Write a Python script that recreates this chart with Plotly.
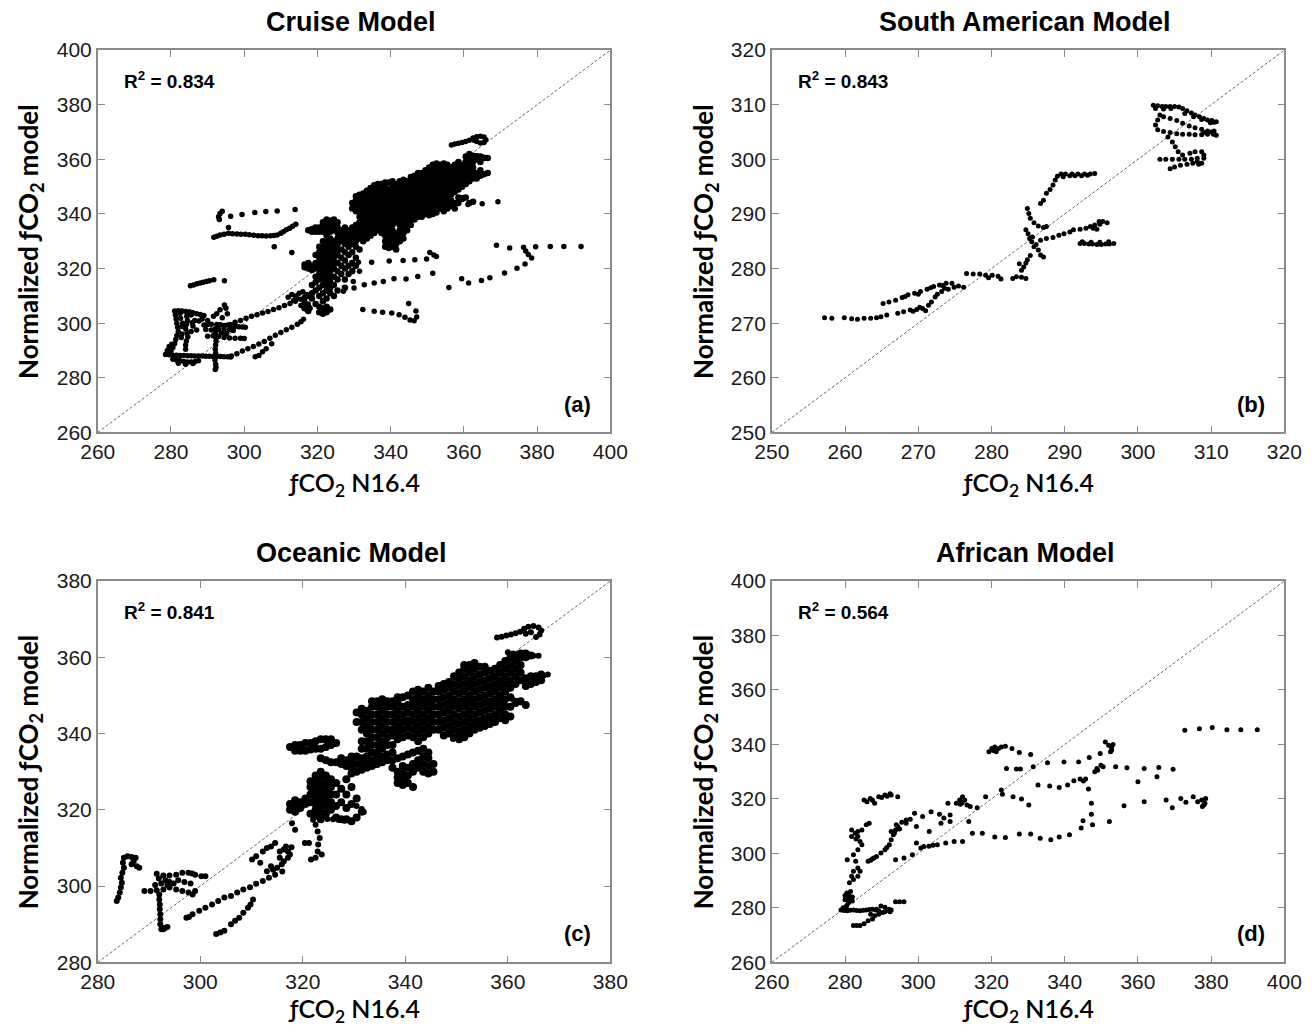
import plotly.graph_objects as go

W, H = 1316, 1032

cruise_pts = [
    (293.2, 338.0), (293.0, 339.0), (293.4, 340.2), (294.0, 341.0), (296.3, 339.2), (299.4, 339.8),
    (302.9, 340.5), (305.9, 340.9), (309.0, 341.1), (313.9, 341.6), (295.7, 335.0),
    (291.7, 331.5), (292.5, 331.8), (293.4, 332.3), (294.5, 332.6), (295.7, 332.9), (296.8, 332.8),
    (298.0, 332.7), (299.1, 332.6), (300.3, 332.6), (301.4, 332.4), (302.6, 332.2), (303.8, 332.0),
    (304.9, 332.0), (306.0, 331.9), (307.2, 332.0), (308.1, 332.1), (309.0, 332.3), (310.0, 332.9),
    (310.7, 333.5), (311.5, 334.2), (312.4, 334.8), (313.2, 335.5), (314.1, 336.2), (308.2, 328.0),
    (313.0, 325.9),
    (285.3, 313.7), (286.2, 314.0), (287.1, 314.4), (288.0, 314.7), (288.8, 315.0), (289.7, 315.3),
    (290.5, 315.5), (291.7, 315.9), (294.6, 315.5),
    (368.9, 328.5), (372.5, 327.5), (376.3, 327.8), (379.6, 328.0), (383.6, 328.1), (387.3, 328.1),
    (392.0, 328.1), (376.9, 326.4), (377.6, 325.2), (378.5, 323.9), (376.7, 321.7), (374.5, 320.1),
    (371.1, 318.4), (367.1, 316.6), (364.8, 315.6), (361.3, 314.7), (359.4, 316.3), (355.9, 313.1),
    (331.2, 322.3), (334.8, 322.3), (339.6, 322.8), (343.4, 323.0), (346.6, 323.2), (349.8, 323.5),
    (350.7, 325.9), (351.8, 325.0), (352.5, 324.4),
    (327.1, 311.7), (330.0, 312.9), (332.8, 314.1), (335.5, 314.7), (338.0, 315.3), (340.9, 316.3),
    (344.2, 316.2), (347.4, 317.1), (351.5, 318.3), (329.8, 315.3), (331.5, 319.0), (330.3, 320.8),
    (332.4, 305.0), (335.5, 304.4), (337.8, 304.0), (340.3, 303.7), (342.3, 303.1), (343.9, 302.2),
    (345.3, 301.2), (346.4, 300.9), (347.1, 302.3), (346.9, 304.5), (344.9, 307.2),
    (365.0, 343.7), (369.3, 344.5), (361.1, 343.5), (359.7, 346.0), (341.2, 327.9),
    (356.6, 365.3), (357.5, 365.6), (358.5, 365.9), (359.5, 366.2), (360.5, 366.5), (361.5, 367.0),
    (362.5, 367.8), (363.5, 368.3), (364.5, 368.5), (365.5, 368.2), (366.0, 367.2), (365.5, 366.2),
    (364.5, 366.0), (363.5, 366.5), (362.8, 367.0),
    (361.5, 361.2), (362.5, 361.5), (363.5, 361.3), (364.5, 361.0), (365.5, 360.8), (366.3, 360.6),
    (278.5, 288.5), (279.5, 288.4), (280.5, 288.3), (281.5, 288.3), (282.5, 288.2), (283.5, 288.2),
    (284.5, 288.1), (285.5, 288.1), (286.5, 288.0), (287.5, 288.0), (288.5, 288.0), (289.5, 287.9),
    (290.5, 287.9), (291.5, 287.8), (292.5, 287.8), (293.5, 287.8), (294.5, 287.7), (295.5, 287.7),
    (296.3, 287.6),
    (280.5, 286.8), (281.5, 286.5), (282.5, 286.2), (283.5, 286.0), (284.5, 285.8), (285.5, 285.8),
    (286.5, 285.9), (287.5, 286.2), (282.0, 285.3), (284.0, 285.0), (286.0, 285.2),
    (279.0, 290.0), (279.5, 291.5), (280.0, 289.5), (280.5, 291.0), (279.3, 289.0), (280.2, 292.3),
    (281.0, 304.5), (282.0, 304.6), (283.0, 304.5), (284.0, 304.3), (285.0, 304.2), (286.0, 303.8),
    (287.0, 303.5), (288.0, 303.2), (289.0, 302.8), (282.5, 303.6), (285.5, 303.0),
    (281.2, 303.0), (281.4, 301.5), (281.6, 300.0), (281.8, 298.5), (282.0, 297.0), (281.6, 295.5),
    (281.3, 294.0), (281.0, 292.5), (282.6, 301.8), (282.8, 294.8),
    (284.3, 302.5), (284.5, 301.0), (284.2, 299.5), (284.0, 298.0), (284.4, 296.5), (284.6, 295.0),
    (284.2, 293.5), (284.0, 292.0), (284.0, 290.5),
    (283.0, 296.0), (283.2, 300.0), (285.5, 297.0), (286.0, 299.0), (286.5, 301.0), (287.0, 297.5),
    (283.0, 298.8), (285.8, 300.2), (287.6, 300.8),
    (292.1, 298.0), (292.2, 296.5), (292.1, 295.0), (292.3, 293.5), (292.2, 292.0), (292.1, 290.5),
    (292.2, 289.0), (292.0, 286.5), (292.2, 285.0), (292.3, 283.8), (292.1, 283.0),
    (289.0, 299.3), (290.0, 299.5), (291.0, 299.6), (292.5, 299.5), (293.5, 299.4), (294.5, 299.2),
    (295.5, 299.3), (296.5, 299.1), (297.5, 298.9), (298.5, 298.7), (299.5, 298.6), (300.3, 298.5),
    (289.5, 297.7), (291.0, 297.5), (293.0, 297.8), (294.5, 297.9), (296.0, 297.6), (297.0, 297.3),
    (290.0, 295.2), (291.5, 295.4), (293.0, 295.1), (294.5, 294.8), (296.0, 294.6), (297.5, 294.5),
    (299.0, 294.5), (300.0, 294.4), (293.8, 296.4), (295.2, 296.2),
    (291.6, 302.5), (292.5, 303.5), (293.4, 304.9), (294.6, 306.7), (295.0, 305.5), (295.4, 303.5),
    (294.0, 302.0), (290.0, 301.0), (288.5, 301.5),
    (296.2, 299.5), (297.5, 300.3), (299.0, 301.0), (300.5, 301.8), (302.0, 302.5), (303.5, 303.1),
    (305.0, 303.7), (306.5, 304.3), (308.0, 305.0), (309.5, 305.7), (311.0, 306.5), (312.5, 307.2),
    (314.0, 308.0), (315.5, 308.8), (316.5, 309.6),
    (312.0, 309.5), (313.0, 310.5), (314.0, 310.0), (315.0, 311.0), (316.0, 311.5), (317.0, 310.5),
    (316.5, 308.5), (317.5, 307.0), (318.0, 305.5), (315.5, 306.5), (316.8, 306.0), (314.5, 309.0),
    (313.5, 308.3), (317.2, 304.8),
    (296.5, 288.0), (298.0, 288.8), (299.5, 289.8), (301.0, 290.6), (302.5, 291.5), (304.0, 292.4),
    (305.5, 293.3), (307.0, 294.5), (308.5, 295.6), (310.0, 296.6), (311.5, 297.6), (313.0, 298.5),
    (314.5, 299.6), (315.5, 300.5), (316.2, 301.4),
    (303.0, 287.7), (304.0, 288.2), (305.0, 289.5), (306.0, 290.6), (307.5, 292.5),
]
cruise_cols = [
    (316.5, [305.5, 307, 320.5, 321.5]),
    (317.5, [304.5, 306, 310, 320, 322, 334]),
    (318.5, [309, 311, 314, 319.5, 321, 333.5, 334.5]),
    (319.5, [307, 312, 315, 317, 320, 322, 325, 333.5, 335]),
    (320.5, [304, 306, 310, 313, 316, 318, 320, 322, 324, 326, 328, 333.5, 335]),
    (321.5, [303.5, 305.5, 308, 311, 314, 316, 318, 320, 322, 324, 326, 328, 330, 333.5, 335.5, 337]),
    (322.5, [304, 306, 309, 312, 314, 316, 318, 320, 322, 324, 326, 328, 330, 332, 334, 336, 338]),
    (323.5, [305, 311, 313, 315, 317, 319, 321, 323, 325, 327, 329, 331, 333.5, 335.5, 337.5]),
    (324.5, [310, 314, 317, 320, 322, 324, 326, 328, 330, 334, 336, 338]),
    (325.5, [312, 316, 319, 322, 325, 327, 329, 331, 333, 335, 337]),
    (326.5, [318, 321, 324, 327, 330, 332, 334]),
    (327.5, [313, 316, 320, 323, 326, 329, 331, 333, 335]),
    (328.5, [318, 321, 325, 328, 330, 332, 334]),
    (329.5, [319, 322, 326, 329, 331, 333, 335, 342, 344]),
    (330.5, [321, 324, 328, 330, 332, 334, 336, 341, 343, 345, 346.5]),
    (331.5, [327, 331, 333, 335, 337, 339, 341, 343, 345, 347]),
    (332.5, [330, 332, 334, 336, 338, 340, 342, 344, 346, 347.5]),
    (333.5, [331, 333, 335, 337, 339, 341, 343, 345, 347, 348.5]),
    (334.5, [332, 334, 336, 338, 340, 342, 344, 346, 348, 349.5]),
    (335.5, [333, 335, 337, 339, 341, 343, 345, 347, 349, 350.5]),
    (336.5, [334, 336, 338, 340, 342, 344, 346, 348, 350, 351]),
    (337.5, [333, 335, 337, 339, 341, 343, 345, 347, 349, 351]),
    (338.5, [328, 330, 332, 334, 336, 338, 340, 342, 344, 346, 348, 350, 351.5]),
    (339.5, [327.5, 329, 331, 333, 335, 337, 339, 341, 343, 345, 347, 349, 351.5]),
    (340.5, [328, 330, 332, 334, 336, 338, 340, 342, 344, 346, 348, 350, 352]),
    (341.5, [327, 329, 331, 333, 337, 339, 341, 343, 345, 347, 349, 351]),
    (342.5, [330, 332, 334, 336, 338, 340, 342, 344, 346, 348, 350, 352]),
    (343.5, [331, 333, 335, 337, 339, 341, 343, 345, 347, 349, 351, 352.5]),
    (344.5, [334, 336, 338, 340, 342, 344, 346, 348, 350, 352]),
    (345.5, [336, 338, 340, 342, 344, 346, 348, 350, 352, 353.5]),
    (346.5, [338, 340, 342, 344, 346, 348, 350, 352, 354]),
    (347.5, [339, 341, 343, 345, 347, 349, 351, 353, 355]),
    (348.5, [339, 341, 343, 345, 347, 349, 351, 353, 355]),
    (349.5, [340, 342, 344, 346, 348, 350, 352, 354, 356]),
    (350.5, [339.5, 341, 343, 345, 347, 349, 351, 353, 355, 357]),
    (351.5, [340, 342, 344, 346, 348, 350, 352, 354, 356, 358]),
    (352.5, [340.5, 343, 345, 347, 349, 351, 353, 355, 357, 358.5]),
    (353.5, [342, 344, 346, 348, 350, 352, 354, 356, 358]),
    (354.5, [341, 343, 345, 347, 349, 351, 353, 355, 357, 358.5]),
    (355.5, [342, 344, 346, 348, 350, 352, 354, 356, 358]),
    (356.5, [343, 345, 347, 349, 351, 353, 355, 357]),
    (357.5, [342, 344, 348, 350, 352, 354, 356, 358]),
    (358.5, [344, 346, 349, 351, 353, 355, 357, 359]),
    (359.5, [345.5, 350, 352, 354, 356, 358]),
    (360.5, [346, 351, 353, 355, 357, 359, 361]),
    (361.5, [344, 352, 354, 356, 358, 360, 362]),
    (362.5, [344.5, 353, 355, 357, 359, 361]),
    (363.5, [353, 355, 360, 361]),
    (364.5, [354, 356, 359, 361]),
    (365.5, [354.5, 360.5]),
    (366.5, [355, 360.5]),
]

south_pts = [
    (257.2, 271.0), (258.2, 270.9), (259.9, 271.0), (260.9, 270.8), (261.7, 270.7), (262.6, 270.9),
    (263.5, 270.9), (264.3, 271.0), (264.9, 271.2), (265.7, 271.5),
    (265.2, 273.6), (266.0, 273.9), (266.9, 274.2), (267.8, 274.7), (268.6, 275.2), (269.5, 275.5),
    (270.3, 275.8), (271.2, 276.2), (272.1, 276.7), (272.9, 277.0), (273.8, 277.3), (274.6, 277.3),
    (275.5, 276.8), (276.2, 276.6), (268.2, 274.9), (270.0, 275.3), (271.7, 276.5), (273.3, 276.9),
    (267.2, 271.8), (268.0, 272.1), (268.9, 272.4), (269.8, 272.5), (270.6, 272.7), (271.4, 273.3),
    (271.8, 273.9), (272.3, 274.8), (273.2, 275.8), (274.1, 276.2), (274.9, 276.6), (269.3, 272.2),
    (270.2, 272.9), (271.0, 272.3), (272.6, 275.3), (273.6, 276.4),
    (276.6, 279.1), (277.5, 279.0), (278.4, 279.0), (279.2, 278.8), (280.1, 278.8), (280.9, 278.6),
    (282.9, 278.2), (283.4, 278.5), (284.1, 278.4), (284.7, 278.2), (279.6, 278.3), (281.3, 278.1),
    (284.1, 279.7), (284.4, 280.3), (284.7, 281.0), (284.9, 281.6), (283.8, 280.9), (285.3, 282.4),
    (284.9, 291.0), (285.1, 290.1), (285.3, 289.2), (285.8, 288.4), (286.4, 287.8), (287.1, 287.5),
    (287.5, 287.7), (284.7, 287.1), (285.0, 286.4), (285.2, 285.5), (285.5, 284.9), (285.8, 284.0),
    (286.4, 283.4), (286.7, 282.5), (287.1, 282.1), (285.6, 285.8), (286.1, 284.4),
    (286.7, 291.9), (287.1, 292.5), (287.5, 293.8), (288.0, 294.5), (288.4, 295.3), (288.7, 296.2),
    (289.0, 296.9), (289.5, 297.3), (290.1, 297.3), (291.0, 297.3), (291.8, 297.3), (292.7, 297.3),
    (293.5, 297.3), (294.1, 297.4), (289.8, 296.8), (290.7, 297.0), (291.4, 297.0), (292.3, 297.0),
    (293.1, 297.1),
    (286.7, 285.2), (287.5, 285.5), (288.4, 285.7), (289.2, 286.1), (289.9, 286.4), (290.7, 286.7),
    (291.2, 287.1), (292.1, 287.2), (292.9, 287.4), (293.5, 287.7), (294.1, 288.0), (294.7, 288.6),
    (295.2, 288.6), (295.8, 288.4), (293.9, 287.4), (294.4, 287.2), (294.8, 288.1),
    (292.1, 284.6), (292.7, 284.6), (293.3, 284.5), (293.8, 284.5), (294.4, 284.4), (295.0, 284.4),
    (295.6, 284.5), (296.1, 284.5), (296.7, 284.6), (292.4, 284.9), (293.6, 284.8), (294.8, 284.8),
    (296.0, 284.9),
    (302.1, 309.9), (302.7, 309.8), (303.3, 309.7), (303.8, 309.7), (304.4, 309.7), (305.0, 309.7),
    (305.6, 309.6), (306.1, 309.3), (306.7, 308.9), (307.3, 308.5), (307.8, 308.1), (308.4, 307.8),
    (309.0, 307.5), (309.5, 307.2), (310.1, 307.1), (310.7, 306.9),
    (302.4, 309.3), (303.5, 309.2), (304.5, 309.3), (306.4, 308.4), (307.6, 307.8), (308.7, 307.3),
    (309.9, 306.7), (310.4, 306.8),
    (303.0, 308.1), (302.7, 307.2), (302.4, 306.3), (302.7, 305.4), (303.5, 305.1), (304.4, 304.9),
    (305.3, 304.7), (306.1, 304.6), (307.0, 304.6), (307.8, 304.5), (308.7, 304.5), (309.5, 304.6),
    (310.3, 304.6), (310.7, 304.4), (309.0, 304.9), (310.0, 305.0),
    (303.5, 307.8), (304.4, 307.5), (305.3, 307.1), (306.1, 306.6), (307.0, 306.1), (307.8, 305.8),
    (308.7, 305.5), (309.5, 305.2), (310.4, 305.2),
    (304.1, 304.1), (304.7, 303.2), (305.1, 302.3), (305.5, 301.4),
    (303.0, 300.0), (303.8, 300.0), (304.7, 300.0), (305.6, 300.0), (306.4, 300.0), (307.3, 300.0),
    (308.1, 300.2), (309.0, 300.2),
    (304.4, 298.3), (305.0, 298.6), (305.8, 298.9), (306.7, 299.1), (307.5, 299.3), (308.1, 299.6),
    (306.1, 300.8), (307.1, 301.1), (307.8, 301.4), (308.7, 301.4), (309.0, 300.8), (308.3, 299.1),
    (308.7, 299.3),
]

ocean_pts = [
    (283.7, 296.1), (284.0, 297.0), (284.3, 298.3), (284.5, 299.6), (284.7, 300.9), (284.5, 302.2),
    (284.8, 303.5), (285.1, 304.8), (284.9, 306.1), (285.1, 307.4), (285.8, 307.8), (286.6, 307.6),
    (287.4, 307.4), (287.0, 306.5), (286.6, 305.7), (287.6, 305.2), (288.1, 304.8),
    (291.5, 303.2), (292.8, 302.8), (294.0, 302.8), (295.3, 303.0), (296.5, 303.5), (297.7, 303.5),
    (299.0, 303.0), (300.2, 302.6), (301.0, 302.6), (298.4, 303.3),
    (289.1, 298.7), (290.3, 298.7), (291.5, 298.9), (292.8, 299.1), (294.0, 299.6), (295.3, 299.1),
    (296.5, 298.7), (297.7, 298.3), (298.5, 297.8), (299.0, 298.7),
    (291.9, 302.0), (293.2, 301.5), (294.0, 301.1), (294.8, 300.7), (295.7, 301.5), (296.9, 301.1),
    (298.1, 300.7), (292.4, 300.7), (293.6, 300.3), (291.2, 300.3),
    (292.0, 297.8), (292.0, 296.5), (292.1, 295.2), (292.1, 293.9), (292.2, 292.6), (292.2, 291.3),
    (292.2, 290.0), (292.4, 288.7), (292.8, 288.7), (293.2, 289.1), (293.6, 289.3),
    (297.3, 291.7), (298.5, 292.6), (299.8, 293.5), (301.0, 294.3), (302.3, 295.2), (303.5, 296.1),
    (304.7, 297.0), (306.0, 297.4), (307.2, 298.3), (308.4, 299.1), (309.7, 299.7), (310.9, 300.6),
    (312.2, 301.3), (313.4, 302.2), (314.6, 303.0), (297.8, 291.9),
    (303.1, 287.4), (303.9, 287.8), (304.7, 288.3), (306.0, 290.0), (306.8, 290.9), (307.6, 291.7),
    (308.4, 293.0), (309.3, 294.3), (309.8, 295.2), (310.3, 296.5),
    (310.1, 307.0), (310.9, 307.8), (312.2, 309.1), (313.0, 310.0), (313.8, 310.4), (314.6, 311.3),
    (315.5, 309.1), (316.3, 309.6), (316.7, 310.4), (317.1, 309.1), (315.5, 307.4), (315.9, 305.7),
    (315.0, 304.8), (316.3, 306.5), (317.1, 307.4), (317.5, 308.3), (314.2, 304.3), (313.8, 305.2),
    (313.0, 303.9), (311.7, 306.1), (316.0, 303.8), (317.8, 310.2),
    (322.5, 307.4), (322.9, 309.1), (323.0, 310.9), (323.3, 312.6), (322.9, 314.3), (322.5, 316.1),
    (322.0, 317.4), (321.6, 307.0), (323.7, 308.3), (320.4, 311.3), (321.2, 311.3),
    (317.9, 316.5), (318.5, 314.8),
    (323.7, 317.8), (324.8, 317.6), (325.9, 317.5), (327.0, 317.3), (328.1, 317.1), (329.2, 317.0),
    (330.5, 321.0), (331.5, 320.2), (331.9, 319.4),
    (357.9, 365.2), (358.8, 365.4), (359.7, 365.7), (360.6, 366.0), (361.5, 366.3), (362.4, 366.7),
    (363.2, 367.5), (364.0, 368.0), (365.0, 368.2), (366.0, 367.8), (366.5, 367.0), (366.2, 366.0),
    (365.5, 365.3), (364.5, 366.6), (363.5, 366.2),
    (360.0, 361.3), (361.0, 361.0), (362.0, 360.8), (363.0, 360.6), (364.0, 360.5), (365.0, 360.4),
    (366.0, 360.4),
    (349.3, 338.6), (350.2, 339.2), (351.2, 339.8), (352.2, 340.5), (353.2, 341.2), (354.2, 341.9),
    (355.2, 342.5), (356.2, 343.0), (357.2, 343.6), (358.2, 344.0), (359.0, 344.5),
    (360.8, 349.1), (361.6, 348.6), (362.5, 348.2),
    (367.0, 355.2), (367.8, 355.5),
]
ocean_cols = [
    (317.5, [320, 321.5, 336.5]),
    (318.5, [319.5, 321, 322.5, 335.5, 337]),
    (319.5, [320.5, 322, 335.5, 337]),
    (320.5, [321.5, 323, 335.5, 337.5]),
    (321.5, [319, 322, 324, 326, 327.5, 335.8, 337.5]),
    (322.5, [318.5, 320, 321.5, 323, 324.5, 326, 327.5, 329, 336, 338]),
    (323.5, [317.5, 319.5, 321, 322.5, 324, 325.5, 327, 328.5, 330, 333.5, 336, 338.5]),
    (324.5, [319, 321, 322.5, 324, 325.5, 327, 329, 333, 336.5, 338.5]),
    (325.5, [320, 322, 324, 326, 328, 332.5, 337, 338.5]),
    (326.5, [318, 321, 324, 327, 332.5, 337.5]),
    (327.5, [317.5, 322, 325.5, 332, 333.5]),
    (328.5, [317.5, 320.5, 324, 328, 331.5, 333]),
    (329.5, [317, 321.5, 326, 329.5, 331, 332.5, 334]),
    (330.5, [318, 323, 330, 332, 334, 343, 345.5]),
    (331.5, [319.5, 330.5, 332, 333.5, 336, 338, 341, 343, 345, 346.5]),
    (332.5, [331, 332.5, 334, 336, 338, 340, 342, 344, 346]),
    (333.5, [331.5, 333, 335, 337, 339, 341, 343, 345, 347, 348.5]),
    (334.5, [332, 333.5, 335, 337, 339, 341, 343, 345, 347, 348.5]),
    (335.5, [332.5, 334, 336, 338, 340, 342, 344, 346, 348, 349]),
    (336.5, [333, 334.5, 337, 339, 341, 343, 345, 347, 348.5]),
    (337.5, [331, 333, 335, 337, 339.5, 341, 343, 345, 347, 348.5]),
    (338.5, [327, 328.5, 330, 333.5, 338.5, 340, 342, 344, 346, 348, 349.5]),
    (339.5, [326.5, 328, 329.5, 331.5, 334, 339, 341, 343, 345, 347, 349.5]),
    (340.5, [327, 329, 331, 334.5, 339.5, 341.5, 343.5, 345.5, 347.5, 350]),
    (341.5, [326, 330, 332, 335, 339, 341, 343, 345, 347, 349, 351]),
    (342.5, [331, 333, 335.5, 338, 340, 342, 344, 346, 348, 350, 351.5]),
    (343.5, [330, 332, 334, 336, 339, 341, 343, 345, 347, 349, 351]),
    (344.5, [329.5, 331.5, 333.5, 335, 340, 342, 344, 346, 348, 350, 352]),
    (345.5, [330, 332, 341, 343, 345, 347, 349, 351]),
    (346.5, [341, 343, 345, 347, 349, 351, 352.5]),
    (347.5, [339.5, 341.5, 343.5, 345.5, 347.5, 349.5, 351.5, 353]),
    (348.5, [340, 342, 344, 346, 348, 350, 352, 353.5]),
    (349.5, [339, 341, 343, 345, 347, 349, 351, 353, 355]),
    (350.5, [338.5, 340.5, 342.5, 344.5, 346.5, 348.5, 350.5, 352.5, 354.5, 356]),
    (351.5, [339, 341, 343, 345, 347, 349, 351, 353, 355, 357, 358]),
    (352.5, [340, 342, 344, 346, 348, 350, 352, 354, 356, 358]),
    (353.5, [341, 343, 345, 347, 349, 351, 353, 355, 357, 358.5]),
    (354.5, [341.5, 343.5, 345.5, 347.5, 349.5, 351.5, 353.5, 355.5, 357.5]),
    (355.5, [342, 344, 346, 348, 350, 352, 354, 356, 357.5]),
    (356.5, [342.5, 344.5, 346.5, 348.5, 350.5, 352.5, 354.5, 356.5]),
    (357.5, [343, 345, 347, 349, 351, 353, 355, 357]),
    (358.5, [344, 346, 348, 350, 352, 354, 356, 358]),
    (359.5, [343.5, 345, 347, 349, 351, 353, 355, 357, 359]),
    (360.5, [344.5, 347, 349.5, 352, 354, 356, 358, 360]),
    (361.5, [348, 353, 355, 357, 359, 360.5]),
    (362.5, [348.5, 354, 356, 358, 360, 361]),
    (363.5, [347.5, 352.5, 354.5, 360, 361]),
    (364.5, [353, 355, 360.5]),
    (365.5, [353.5, 355]),
    (366.5, [354, 355.5]),
]

africa_pts = [
    (372.8, 345.2), (376.8, 345.8), (380.3, 346.2), (384.3, 345.4), (388.1, 345.4), (392.6, 345.4),
    (367.7, 319.6), (369.4, 316.8), (371.7, 320.2), (373.1, 318.8), (375.1, 320.8), (376.3, 319.0),
    (377.4, 319.6), (378.0, 317.8), (378.5, 320.2), (378.3, 318.4), (377.6, 317.2),
    (353.9, 331.8), (357.0, 331.4), (361.7, 331.2), (365.7, 331.5), (369.6, 330.9),
    (365.2, 328.1), (360.0, 326.3), (356.2, 317.5), (361.7, 319.0),
    (351.1, 340.9), (352.0, 339.7), (352.8, 338.7), (352.5, 337.3), (353.2, 340.0), (352.8, 337.9),
    (349.7, 336.7), (349.9, 332.4), (348.8, 331.2), (348.2, 330.0), (349.0, 330.5), (350.5, 331.8),
    (346.7, 335.2), (344.2, 327.3), (345.1, 326.6), (345.7, 327.3), (342.5, 326.7),
    (346.5, 323.6), (347.3, 318.4), (347.3, 314.4), (345.0, 312.0), (344.5, 309.3), (347.6, 310.5),
    (352.2, 311.7),
    (314.8, 307.4), (317.5, 307.4), (320.9, 306.0), (323.8, 305.8), (327.6, 307.1), (330.7, 307.1),
    (333.3, 305.6), (336.2, 305.0), (338.5, 306.0), (341.3, 306.8),
    (335.3, 333.3), (339.8, 333.6), (343.8, 333.6),
    (324.1, 331.2), (326.8, 331.0), (327.9, 331.0), (331.4, 331.8),
    (332.7, 325.1), (335.9, 324.7), (338.5, 324.2), (340.8, 325.1),
    (325.9, 320.8), (328.2, 320.0), (330.2, 317.8), (322.7, 323.3), (323.0, 321.7),
    (319.3, 337.3), (320.1, 338.5), (320.9, 339.1), (321.9, 338.5), (322.7, 339.1), (323.8, 339.3),
    (325.6, 338.5), (327.6, 337.0), (330.7, 336.3), (321.3, 337.3), (320.5, 337.8),
    (318.4, 320.8), (316.1, 316.8),
    (285.2, 319.6), (286.9, 320.2), (288.1, 318.4), (289.2, 320.8), (290.9, 321.4), (292.6, 321.4),
    (294.4, 320.8), (286.0, 319.0), (287.5, 319.5), (290.0, 320.5), (292.3, 321.9), (291.5, 321.0),
    (308.1, 318.4), (310.4, 318.4), (311.3, 319.6), (312.1, 320.8), (312.7, 319.6), (313.3, 317.8),
    (314.2, 317.2), (312.0, 318.6), (311.5, 318.0),
    (313.8, 311.7),
    (299.0, 314.7), (301.2, 313.5), (303.5, 315.3), (305.8, 314.4), (308.7, 314.1), (296.7, 311.1),
    (299.5, 309.9), (303.0, 308.0), (306.2, 311.1), (308.7, 311.7), (307.0, 313.0),
    (286.3, 297.1), (287.5, 298.0), (288.6, 298.9), (289.8, 300.1), (290.9, 301.3), (292.1, 303.2),
    (292.6, 305.0), (293.2, 306.8), (293.8, 308.6), (294.4, 309.9), (295.5, 311.4), (296.7, 312.3),
    (297.8, 312.5), (292.6, 308.0), (293.5, 307.5), (294.0, 310.5), (294.9, 309.0), (291.4, 302.2),
    (287.0, 297.5), (288.0, 298.4),
    (296.1, 298.3), (293.8, 297.7),
    (298.4, 299.5), (300.7, 302.0), (302.9, 302.6), (305.2, 303.2), (307.5, 303.8), (309.8, 304.4),
    (312.1, 304.4), (299.5, 303.8), (301.5, 302.5), (304.0, 303.0),
    (281.8, 308.6), (283.5, 308.0), (284.6, 308.6), (285.8, 310.5), (286.6, 311.1), (281.8, 306.2),
    (283.5, 306.2), (284.1, 304.4), (284.6, 303.2), (283.5, 301.3), (282.3, 299.5), (280.6, 297.7),
    (282.9, 297.1), (283.5, 294.6), (282.3, 293.4), (281.8, 291.6), (282.3, 290.4), (281.2, 289.2),
    (283.5, 291.6), (284.1, 293.4), (282.8, 307.4), (283.0, 305.3),
    (281.0, 285.0), (281.0, 283.5), (281.0, 282.0), (280.5, 281.0), (282.0, 284.0), (282.0, 282.5),
    (280.0, 283.0), (280.0, 284.5), (280.5, 285.5), (281.5, 286.0),
    (278.9, 279.2), (279.7, 279.0), (280.6, 278.9), (281.4, 279.1), (282.3, 279.2), (283.2, 279.0),
    (284.1, 278.9), (285.0, 279.1), (285.8, 279.2), (286.6, 279.4), (287.5, 279.5), (288.4, 279.2),
    (289.2, 278.9), (290.9, 278.6), (292.6, 279.2), (293.8, 282.2), (294.9, 282.2), (296.1, 282.2),
    (292.3, 278.6), (279.5, 280.0), (280.3, 280.2),
    (282.3, 273.5), (283.2, 273.5), (284.1, 273.5), (285.2, 274.2), (286.3, 275.3), (287.5, 275.9),
    (288.1, 277.1), (289.2, 277.7), (290.3, 278.3), (291.5, 279.0), (287.0, 277.7), (288.6, 279.5),
    (289.8, 280.7), (290.9, 280.2), (292.0, 279.5),
]

titles = ["Cruise Model", "South American Model", "Oceanic Model", "African Model"]
r2_texts = ["R<sup>2</sup> = 0.834", "R<sup>2</sup> = 0.843", "R<sup>2</sup> = 0.841", "R<sup>2</sup> = 0.564"]
panel_tags = ["(a)", "(b)", "(c)", "(d)"]
axis_ranges = [(260, 400, 20), (250, 320, 10), (280, 380, 20), (260, 400, 20)]


def split(pts):
    return [p[0] for p in pts], [p[1] for p in pts]


def expand_cols(cols):
    xs, ys = [], []
    for cx, cys in cols:
        for cy in cys:
            xs.append(cx)
            ys.append(cy)
    return xs, ys


sparse_sets = [split(cruise_pts), split(south_pts), split(ocean_pts), split(africa_pts)]
dense_sets = [expand_cols(cruise_cols), ([], []), expand_cols(ocean_cols), ([], [])]
sparse_sizes = [5.5, 5, 6, 5]
dense_sizes = [6.5, 5, 8, 5]

# plot-area boxes in pixels: (left, right, top, bottom)
boxes = [(82, 609, 39, 430), (775, 1302, 39, 430), (82, 609, 582, 972), (775, 1302, 582, 972)]
ytitle_x = [12, 706, 12, 706]
xtitle_dy = [53, 53, 49, 49]

TICK_FONT = dict(family="Liberation Sans Narrow, Arial Narrow, Liberation Sans, sans-serif", size=21, color="#1a1a1a")
TITLE_FONT = "Liberation Sans Narrow, Arial Narrow, Liberation Sans, sans-serif"
LABEL_FONT = "Lato, Open Sans, Liberation Sans, sans-serif"

fig = go.Figure()
layout = dict(
    width=W, height=H, margin=dict(l=0, r=0, t=0, b=0),
    paper_bgcolor="white", plot_bgcolor="white", showlegend=False,
)
annotations = []

for i in range(4):
    n = i + 1
    xa = "x" if n == 1 else f"x{n}"
    ya = "y" if n == 1 else f"y{n}"
    lo, hi, dt = axis_ranges[i]
    left, right, top, bottom = boxes[i]

    fig.add_trace(go.Scatter(
        x=[lo, hi], y=[lo, hi], mode="lines", xaxis=xa, yaxis=ya,
        line=dict(color="#555555", width=0.9, dash="3px,2px"), hoverinfo="skip",
    ))
    sx, sy = sparse_sets[i]
    fig.add_trace(go.Scatter(
        x=sx, y=sy, mode="markers", xaxis=xa, yaxis=ya,
        marker=dict(color="black", size=sparse_sizes[i], line=dict(width=0)),
    ))
    dx, dy = dense_sets[i]
    if dx:
        fig.add_trace(go.Scatter(
            x=dx, y=dy, mode="markers", xaxis=xa, yaxis=ya,
            marker=dict(color="black", size=dense_sizes[i], line=dict(width=0)),
        ))

    common = dict(
        showgrid=False, zeroline=False, showline=True, linecolor="#8a8a8a", linewidth=1.5,
        mirror="ticks", ticks="inside", ticklen=7, tickwidth=1.2, tickcolor="#8a8a8a",
        tickfont=TICK_FONT, range=[lo, hi], dtick=dt, tick0=lo,
    )
    layout["xaxis" if n == 1 else f"xaxis{n}"] = dict(
        common, domain=[left / W, right / W], anchor=ya)
    layout["yaxis" if n == 1 else f"yaxis{n}"] = dict(
        common, domain=[1 - bottom / H, 1 - top / H], anchor=xa)

    cx = (left + right) / 2
    cy = (top + bottom) / 2
    annotations.append(dict(
        text=f"<b>{titles[i]}</b>", x=(cx - 3) / W, y=1 - (top - 28.5) / H, xref="paper", yref="paper",
        showarrow=False, font=dict(family=TITLE_FONT, size=27, color="black"),
        xanchor="center", yanchor="middle"))
    annotations.append(dict(
        text="ƒCO<sub>2</sub> N16.4", x=cx / W, y=1 - (bottom + xtitle_dy[i]) / H, xref="paper", yref="paper",
        showarrow=False, font=dict(family=LABEL_FONT, size=25, color="black", weight=600),
        xanchor="center", yanchor="middle"))
    annotations.append(dict(
        text="<b>Normalized ƒCO<sub>2</sub> model</b>", x=ytitle_x[i] / W, y=1 - cy / H,
        xref="paper", yref="paper", textangle=-90,
        showarrow=False, font=dict(family=LABEL_FONT, size=26, color="black"),
        xanchor="center", yanchor="middle"))
    annotations.append(dict(
        text=f"<b>{r2_texts[i]}</b>", x=(left + 25) / W, y=1 - (top + 31) / H, xref="paper", yref="paper",
        showarrow=False, font=dict(family=TITLE_FONT, size=19, color="black"),
        xanchor="left", yanchor="middle"))
    annotations.append(dict(
        text=f"<b>{panel_tags[i]}</b>", x=(right - 18) / W, y=1 - (bottom - 29) / H, xref="paper", yref="paper",
        showarrow=False, font=dict(family=TITLE_FONT, size=22, color="black"),
        xanchor="right", yanchor="middle"))

layout["annotations"] = annotations
fig.update_layout(**layout)
fig.write_html(
    "out.html",
    config={"displayModeBar": False},
    post_script="document.body.style.margin='0';document.body.style.overflow='hidden';",
)
